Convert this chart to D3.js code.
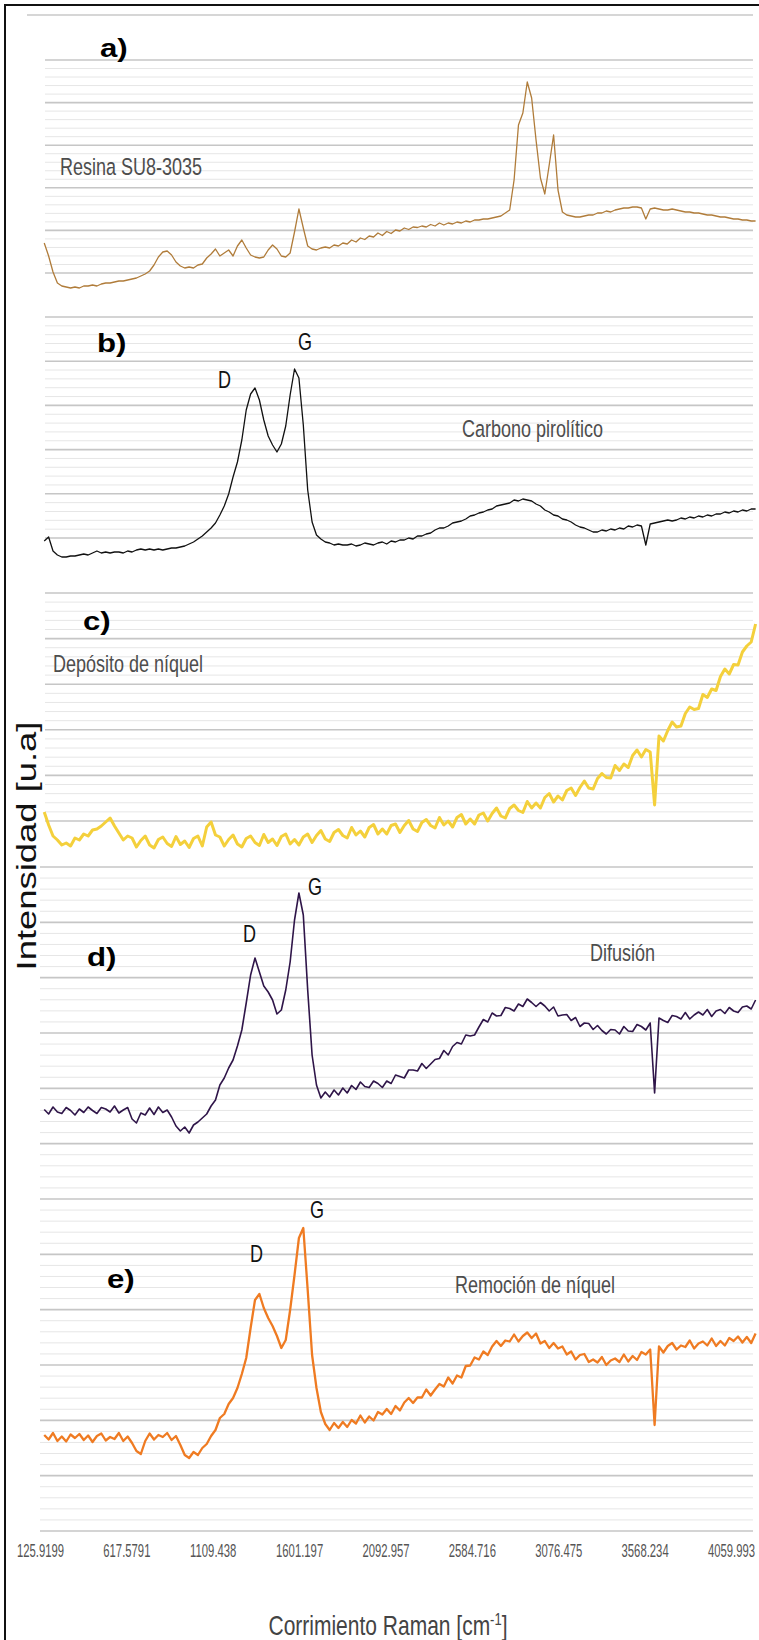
<!DOCTYPE html>
<html>
<head>
<meta charset="utf-8">
<script src="https://cdnjs.cloudflare.com/ajax/libs/d3/7.8.5/d3.min.js"></script>
<style>
  body { margin: 0; background: #fff; }
  svg { display: block; }
</style>
</head>
<body>
<div id="raman"></div>
<script>
// Raman shift samples (cm-1), shared by all five spectra
var ramanShift = [
  150,175,200,225,250,275,300,325,350,375,
  400,425,450,475,500,525,550,575,600,625,
  650,675,700,725,750,775,800,825,850,875,
  900,925,950,975,1000,1025,1050,1075,1100,1125,
  1150,1175,1200,1225,1250,1275,1300,1325,1350,1375,
  1400,1425,1450,1475,1500,1525,1550,1575,1600,1625,
  1650,1675,1700,1725,1750,1775,1800,1825,1850,1875,
  1900,1925,1950,1975,2000,2025,2050,2075,2100,2125,
  2150,2175,2200,2225,2250,2275,2300,2325,2350,2375,
  2400,2425,2450,2475,2500,2525,2550,2575,2600,2625,
  2650,2675,2700,2725,2750,2775,2800,2825,2850,2875,
  2900,2925,2950,2975,3000,3025,3050,3075,3100,3125,
  3150,3175,3200,3225,3250,3275,3300,3325,3350,3375,
  3400,3425,3450,3475,3500,3525,3550,3575,3600,3625,
  3650,3675,3700,3725,3750,3775,3800,3825,3850,3875,
  3900,3925,3950,3975,4000,4025,4050,4075,4100,4125,
  4150,4175,4200
];

// intensities (u.a.)
var resinaSU8 = [
  114,88,56,34,28,26,24,26,24,28,
  28,30,28,32,34,34,36,38,38,40,
  42,44,48,52,58,70,86,96,98,90,
  76,68,64,66,64,70,72,84,92,102,
  88,94,100,88,108,120,104,90,86,84,
  86,100,110,102,88,86,94,136,182,144,
  108,102,100,104,106,104,110,108,114,112,
  120,116,124,121,128,126,134,129,137,133,
  140,138,144,141,146,145,148,146,151,148,
  154,150,154,152,156,154,158,156,160,160,
  162,162,164,166,168,174,180,240,350,374,
  436,404,320,244,212,270,330,220,176,170,
  168,166,166,168,170,170,174,174,178,176,
  180,182,184,184,186,186,184,162,182,184,
  182,180,180,182,180,178,176,176,174,174,
  172,170,170,168,166,166,164,162,162,160,
  160,158,158
];
var carbonoPirolitico = [
  58,66,38,30,26,26,28,28,30,32,
  30,34,38,34,36,34,36,36,34,38,
  36,40,42,40,42,40,42,40,42,44,
  44,46,48,52,56,62,68,76,84,94,
  110,128,152,186,216,260,320,352,364,340,
  300,268,250,236,252,288,350,402,384,290,
  160,96,70,62,56,54,50,52,50,50,
  52,48,50,54,52,50,54,56,52,58,
  56,60,60,64,62,68,68,72,74,80,
  84,84,88,94,96,98,102,108,110,114,
  116,120,122,128,130,132,134,140,138,142,
  140,138,132,128,120,116,110,108,102,100,
  96,90,86,84,80,76,76,80,78,82,
  80,84,82,88,86,90,88,50,92,94,
  96,98,100,98,100,104,102,106,104,108,
  106,110,108,112,112,116,114,118,116,120,
  118,122,122
];
var depositoNiquel = [
  96,70,48,40,30,34,28,44,40,52,
  48,60,62,68,76,84,68,54,40,48,
  44,26,39,48,30,24,41,46,33,27,
  47,31,38,25,43,48,28,66,76,50,
  46,28,41,50,32,26,43,48,35,29,
  51,35,42,29,47,52,32,41,30,46,
  52,35,49,59,42,37,55,61,49,44,
  65,50,58,46,65,71,52,62,52,69,
  72,55,69,79,62,57,75,81,69,64,
  85,70,78,66,85,91,72,82,72,90,
  94,78,93,104,88,84,103,110,99,95,
  117,104,114,104,125,133,116,128,120,139,
  144,129,145,158,144,142,163,173,165,164,
  189,179,192,185,209,220,206,221,216,110,
  248,238,259,276,266,268,293,306,301,303,
  331,325,342,339,367,382,372,391,390,416,
  428,436,472
];
var difusion = [
  81,72,86,76,73,85,79,70,82,75,
  86,79,73,85,82,76,88,74,80,85,
  62,54,74,70,84,71,86,75,80,66,
  48,38,46,34,50,56,64,72,88,100,
  130,144,164,180,208,240,294,350,384,356,
  328,316,300,272,280,320,376,460,514,470,
  320,190,130,104,116,106,120,110,124,114,
  129,121,136,127,125,138,133,125,138,133,
  150,147,144,160,160,158,173,163,172,181,
  183,199,190,207,215,212,230,228,230,246,
  261,256,274,268,269,285,283,278,292,287,
  302,295,287,295,288,278,286,268,270,271,
  259,265,247,254,253,241,249,239,232,241,
  240,232,247,238,237,251,247,240,254,114,
  264,259,255,269,267,262,275,262,270,276,
  270,281,267,278,281,273,285,278,275,286,
  288,282,300
];
var remocionNiquel = [
  110,101,114,98,107,97,111,104,112,100,
  109,96,108,113,99,106,102,114,98,107,
  94,78,72,98,113,101,110,106,114,100,
  108,90,70,64,76,70,84,92,108,120,
  144,152,172,184,204,232,264,324,380,392,
  364,344,328,308,284,300,360,430,504,524,
  400,270,204,156,132,120,134,124,136,126,
  140,133,149,135,147,139,156,151,162,152,
  168,159,175,184,174,185,185,201,189,201,
  212,207,225,213,229,225,248,249,265,261,
  277,270,287,298,288,299,297,311,297,308,
  315,304,313,293,298,284,294,283,287,271,
  277,261,270,272,256,261,255,266,250,259,
  263,256,271,257,268,260,276,271,281,130,
  287,275,288,294,281,289,286,299,283,293,
  297,289,303,288,298,289,304,298,307,295,
  306,294,313
];

var tickValues = [125.9199, 617.5791, 1109.438, 1601.197, 2092.957, 2584.716, 3076.475, 3568.234, 4059.993];
var tickLabels = ["125.9199", "617.5791", "1109.438", "1601.197", "2092.957", "2584.716", "3076.475", "3568.234", "4059.993"];
var panelLetters = ["a)", "b)", "c)", "d)", "e)"];
var sampleNames = ["Resina SU8-3035", "Carbono pirolítico", "Depósito de níquel", "Difusión", "Remoción de níquel"];

var width = 759, height = 1640;

var svg = d3.select("#raman")
  .append("svg")
    .attr("width", width)
    .attr("height", height);

var x = d3.scaleLinear()
    .domain([125.9199, 4059.993])
    .range([40, 731]);

// horizontal gridlines of the stacked charts (major + 4 minor per step)
var gridBands = [
  {top: 60, bottom: 273, steps: 5, x0: 45},
  {top: 317, bottom: 538, steps: 5, x0: 45},
  {top: 593, bottom: 821, steps: 5, x0: 45},
  {top: 867, bottom: 1531, steps: 12, x0: 40}
];
var grid = svg.append("g");
grid.append("line")
    .attr("x1", 27).attr("x2", 753)
    .attr("y1", 15).attr("y2", 15)
    .attr("stroke", "#c8c8c8").attr("stroke-width", 1.5);
gridBands.forEach(function(b) {
  var gy = d3.scaleLinear().domain([0, b.steps]).range([b.bottom, b.top]);
  var minors = d3.range(0, b.steps * 5).filter(function(k) { return k % 5 != 0; })
      .map(function(k) { return k / 5; });
  grid.selectAll(null)
    .data(minors)
    .enter().append("line")
      .attr("x1", b.x0).attr("x2", 753)
      .attr("y1", function(d) { return gy(d); })
      .attr("y2", function(d) { return gy(d); })
      .attr("stroke", "#e6e6e6").attr("stroke-width", 1);
  grid.selectAll(null)
    .data(d3.range(0, b.steps + 1))
    .enter().append("line")
      .attr("x1", b.x0).attr("x2", 753)
      .attr("y1", function(d) { return gy(d); })
      .attr("y2", function(d) { return gy(d); })
      .attr("stroke", "#c6c6c6").attr("stroke-width", 1.6);
});

// frame
svg.append("path")
    .attr("d", "M5,1640V5H759")
    .attr("fill", "none")
    .attr("stroke", "#111")
    .attr("stroke-width", 2);

// one panel per sample, each with its own intensity scale
var panels = [
  {data: resinaSU8, bottom: 300, color: "#b07c3a", lw: 1.3,
   letter: [100, 57], name: [60, 175], peaks: []},
  {data: carbonoPirolitico, bottom: 570, color: "#111111", lw: 1.3,
   letter: [97, 352], name: [462, 437], peaks: [[218, 388], [298, 350]]},
  {data: depositoNiquel, bottom: 860, color: "#f4d03c", lw: 3,
   letter: [83, 630], name: [53, 672], peaks: []},
  {data: difusion, bottom: 1150, color: "#2f1549", lw: 1.6,
   letter: [87, 966], name: [590, 961], peaks: [[243, 942], [308, 895]]},
  {data: remocionNiquel, bottom: 1490, color: "#ef7b22", lw: 2.3,
   letter: [107, 1288], name: [455, 1293], peaks: [[250, 1262], [310, 1218]]}
];

panels.forEach(function(p, k) {
  var y = d3.scaleLinear().domain([0, 500]).range([p.bottom, p.bottom - 250]);
  var line = d3.line()
      .x(function(d, i) { return x(ramanShift[i]); })
      .y(function(d) { return y(d); });

  svg.append("path")
      .datum(p.data)
      .attr("d", line)
      .attr("fill", "none")
      .attr("stroke", p.color)
      .attr("stroke-width", p.lw)
      .attr("stroke-linejoin", "round");

  svg.append("text")
      .attr("transform", "translate(" + p.letter[0] + "," + p.letter[1] + ") scale(1.2,1)")
      .attr("font-family", "Liberation Sans, Arial, sans-serif")
      .attr("font-weight", "bold")
      .attr("font-size", 26)
      .attr("fill", "#000")
      .text(panelLetters[k]);

  svg.append("text")
      .attr("transform", "translate(" + p.name[0] + "," + p.name[1] + ") scale(1,1.35)")
      .attr("font-family", "Liberation Sans, Arial, sans-serif")
      .attr("font-size", 18)
      .attr("fill", "#4d4d4d")
      .text(sampleNames[k]);

  // D and G band labels
  p.peaks.forEach(function(pos, j) {
    svg.append("text")
        .attr("transform", "translate(" + pos[0] + "," + pos[1] + ") scale(0.9,1.19)")
        .attr("font-family", "Liberation Sans, Arial, sans-serif")
        .attr("font-size", 20)
        .attr("fill", "#111")
        .text(j == 0 ? "D" : "G");
  });
});

// x axis
var xAxis = svg.append("g")
    .attr("transform", "translate(0,1531)")
    .call(d3.axisBottom(x)
      .tickValues(tickValues)
      .tickFormat(function(d, i) { return tickLabels[i]; })
      .tickSize(0));
xAxis.select(".domain").remove();
xAxis.selectAll("text")
    .attr("y", 0)
    .attr("dy", null)
    .attr("transform", "translate(0,26) scale(0.87,1.4)")
    .attr("font-family", "Liberation Sans, Arial, sans-serif")
    .attr("font-size", 13)
    .attr("fill", "#555");

// axis titles
svg.append("text")
    .attr("transform", "translate(36,846) rotate(-90) scale(1.3,1)")
    .attr("text-anchor", "middle")
    .attr("font-family", "Liberation Sans, Arial, sans-serif")
    .attr("font-size", 28)
    .attr("fill", "#111")
    .text("Intensidad [u.a]");

var xTitle = svg.append("text")
    .attr("transform", "translate(388,1635) scale(1,1.3)")
    .attr("text-anchor", "middle")
    .attr("font-family", "Liberation Sans, Arial, sans-serif")
    .attr("font-size", 21)
    .attr("fill", "#444");
xTitle.append("tspan").text("Corrimiento Raman [cm");
xTitle.append("tspan").attr("dy", -8).attr("font-size", 13).text("-1");
xTitle.append("tspan").attr("dy", 8).text("]");
</script>
</body>
</html>
